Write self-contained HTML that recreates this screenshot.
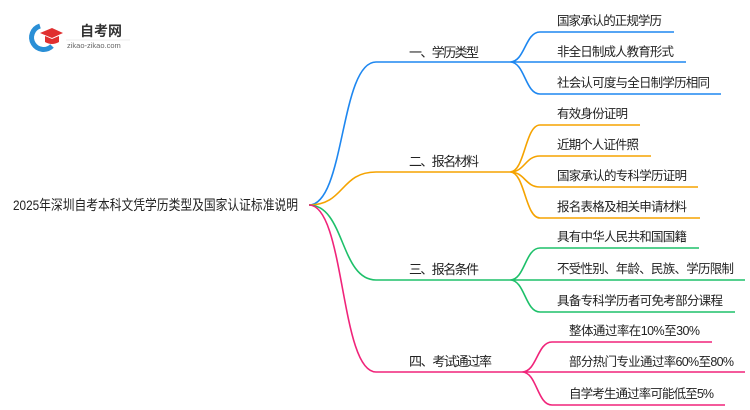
<!DOCTYPE html>
<html><head><meta charset="utf-8"><style>
body{margin:0;background:#fff}
svg{display:block}
text{font-family:"Liberation Sans","Noto Sans CJK SC",sans-serif;fill:#222}
</style></head><body>
<svg width="750" height="410" viewBox="0 0 750 410" xmlns="http://www.w3.org/2000/svg">
<g>
<path d="M40 26 A12 12 0 1 0 52 46" fill="none" stroke="#2a8fd6" stroke-width="5"/>
<path d="M40 33 L52 28 L63 33 L52 38 Z" fill="#e03030"/>
<path d="M45 36 L45 42 Q52 46 59 42 L59 36 L52 39 Z" fill="#e03030"/>
<text x="80" y="36" font-size="14" font-weight="bold" style="fill:#333">自考网</text>
<line x1="66" y1="40" x2="130" y2="40" stroke="#ddd" stroke-width="0.6"/>
<text x="67" y="48" font-size="7.5" style="fill:#666">zikao-zikao.com</text>
</g>
<text x="13" y="210" font-size="14" textLength="285" lengthAdjust="spacingAndGlyphs">2025年深圳自考本科文凭学历类型及国家认证标准说明</text>
<g fill="none" stroke-width="1.6">
<path d="M309 205 C345 205 340 62 376 62 L510 62" stroke="#1e87f0"/>
<path d="M510 62 C525 62 525 32 540 32 L674 32 M510 62 L686 62 M510 62 C525 62 525 94 540 94 L721 94" stroke="#1e87f0"/>
<path d="M309 205 C345 205 340 172 376 172 L510 172" stroke="#f5a300"/>
<path d="M510 172 C525 172 525 125 540 125 L640 125 M510 172 C525 172 525 156 540 156 L651 156 M510 172 C525 172 525 187 540 187 L698 187 M510 172 C525 172 525 218 540 218 L700 218" stroke="#f5a300"/>
<path d="M309 205 C345 205 340 280 376 280 L510 280" stroke="#1ec06a"/>
<path d="M510 280 C525 280 525 248 540 248 L699 248 M510 280 L745 280 M510 280 C525 280 525 312 540 312 L735 312" stroke="#1ec06a"/>
<path d="M309 205 C345 205 340 372 376 372 L522 372" stroke="#f0247a"/>
<path d="M522 372 C537 372 537 342 552 342 L712 342 M522 372 L745 372 M522 372 C537 372 537 405 552 405 L725 405" stroke="#f0247a"/>
</g>
<g font-size="13" lengthAdjust="spacingAndGlyphs">
<text x="409" y="57" textLength="70">一、学历类型</text>
<text x="409" y="166" textLength="70">二、报名材料</text>
<text x="409" y="274" textLength="70">三、报名条件</text>
<text x="409" y="366" textLength="83">四、考试通过率</text>
</g>
<g font-size="12.5" lengthAdjust="spacingAndGlyphs">
<text x="557" y="25" textLength="105">国家承认的正规学历</text>
<text x="557" y="56" textLength="117">非全日制成人教育形式</text>
<text x="557" y="87" textLength="153">社会认可度与全日制学历相同</text>
<text x="557" y="118" textLength="71">有效身份证明</text>
<text x="557" y="149" textLength="82">近期个人证件照</text>
<text x="557" y="180" textLength="130">国家承认的专科学历证明</text>
<text x="557" y="211" textLength="130">报名表格及相关申请材料</text>
<text x="557" y="241" textLength="130">具有中华人民共和国国籍</text>
<text x="557" y="273" textLength="177">不受性别、年龄、民族、学历限制</text>
<text x="557" y="305" textLength="166">具备专科学历者可免考部分课程</text>
<text x="569" y="335" textLength="131">整体通过率在10%至30%</text>
<text x="569" y="366" textLength="165">部分热门专业通过率60%至80%</text>
<text x="569" y="398" textLength="145">自学考生通过率可能低至5%</text>
</g>
</svg>
</body></html>
